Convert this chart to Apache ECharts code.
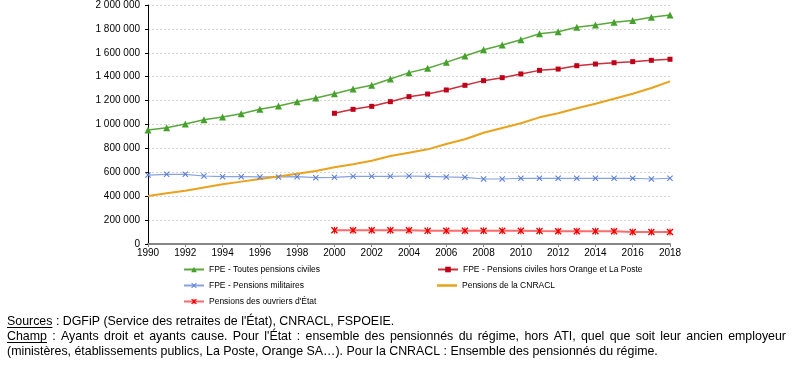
<!DOCTYPE html>
<html><head><meta charset="utf-8">
<script src="https://cdn.jsdelivr.net/npm/echarts@6/dist/echarts.min.js"></script>
<style>html,body{margin:0;padding:0;background:#fff}#c{width:806px;height:369px}</style>
</head><body><div id="c"></div>
<script>
const years = ['1990','1991','1992','1993','1994','1995','1996','1997','1998','1999','2000','2001','2002','2003','2004','2005','2006','2007','2008','2009','2010','2011','2012','2013','2014','2015','2016','2017','2018'];
const toutesCiviles = [954000, 973000, 1004000, 1040000, 1063000, 1090000, 1127000, 1155000, 1191000, 1222000, 1258000, 1297000, 1328000, 1381000, 1434000, 1470000, 1520000, 1573000, 1626000, 1665000, 1710000, 1760000, 1777000, 1813000, 1833000, 1855000, 1871000, 1897000, 1916000];
const horsOrangePoste = [null, null, null, null, null, null, null, null, null, null, 1094000, 1127000, 1152000, 1191000, 1233000, 1255000, 1289000, 1328000, 1367000, 1392000, 1423000, 1453000, 1464000, 1492000, 1506000, 1517000, 1526000, 1537000, 1546000];
const militaires = [577000, 583000, 583000, 569000, 563000, 563000, 561000, 561000, 563000, 555000, 558000, 566000, 566000, 566000, 569000, 566000, 561000, 558000, 544000, 544000, 550000, 550000, 550000, 550000, 550000, 550000, 550000, 544000, 550000];
const cnracl = [402000, 424000, 446000, 473000, 500000, 522000, 544000, 565000, 588000, 611000, 642000, 667000, 697000, 736000, 764000, 792000, 837000, 876000, 931000, 971000, 1010000, 1060000, 1094000, 1136000, 1174000, 1216000, 1258000, 1305000, 1361000];
const ouvriers = [null, null, null, null, null, null, null, null, null, null, 115000, 115000, 115000, 115000, 115000, 110000, 111000, 111000, 111000, 110000, 110000, 108000, 107000, 107000, 107000, 107000, 101000, 101000, 101000];
const seriesNames = ['FPE - Toutes pensions civiles', 'FPE - Pensions civiles hors Orange et La Poste', 'FPE - Pensions militaires', 'Pensions de la CNRACL', "Pensions des ouvriers d'État"];
const noteLine1 = ['Sources', " : DGFiP (Service des retraites de l'État), CNRACL, FSPOEIE."];
const noteLine2 = ['Champ', " : Ayants droit et ayants cause. Pour l'État : ensemble des pensionnés du régime, hors ATI, quel que soit leur ancien employeur"];
const noteLine3 = '(ministères, établissements publics, La Poste, Orange SA…). Pour la CNRACL : Ensemble des pensionnés du régime.';

const FONT = 'Liberation Sans, Arial, sans-serif';
const xPath = 'path://M0,1.2L1.2,0L5,3.8L8.8,0L10,1.2L6.2,5L10,8.8L8.8,10L5,6.2L1.2,10L0,8.8L3.8,5Z';
const starPath = 'path://M0,1.4L1.4,0L4.3,2.9L4.3,0L5.7,0L5.7,2.9L8.6,0L10,1.4L6.4,5L10,8.6L8.6,10L5.7,7.1L5.7,10L4.3,10L4.3,7.1L1.4,10L0,8.6L3.6,5Z';

const chart = echarts.init(document.getElementById('c'), null, {renderer: 'canvas'});

// footnote layout via text measurement
const cv = document.createElement('canvas').getContext('2d');
cv.font = '11px ' + FONT;
const NOTE_SIZE = Math.round(11 * 651 / cv.measureText(noteLine3).width * 10) / 10;
const NF = NOTE_SIZE + 'px ' + FONT;
cv.font = NF;
const mw = s => cv.measureText(s).width;
const graphics = [];
const X0 = 7, X1 = 786;
const Y1 = 322, Y2 = 337, Y3 = 352;
function txt(x, y, s) {
  graphics.push({type: 'text', left: x, top: y - NOTE_SIZE / 2 - 0.5, style: {text: s, fill: '#000', font: NF}});
}
function underline(x, y, w) {
  graphics.push({type: 'line', shape: {x1: x, y1: y + 5.5, x2: x + w, y2: y + 5.5}, style: {stroke: '#000', lineWidth: 1}});
}
txt(X0, Y1, noteLine1[0] + noteLine1[1]);
underline(X0, Y1, mw(noteLine1[0]));
{
  const words = (noteLine2[0] + noteLine2[1]).split(' ');
  const total = words.reduce((a, w) => a + mw(w), 0);
  const gap = (X1 - X0 - total) / (words.length - 1);
  let x = X0;
  words.forEach(w => { txt(x, Y2, w); x += mw(w) + gap; });
  underline(X0, Y2, mw(noteLine2[0]));
}
txt(X0, Y3, noteLine3);

const legendPos = [[183, 265], [437, 265], [183, 281], [437, 281], [183, 297]];
const legends = seriesNames.map((n, i) => {
  const l = {
    data: [n], left: legendPos[i][0], top: legendPos[i][1], padding: 0,
    itemWidth: 20, itemHeight: 7, itemGap: 0,
    textStyle: {fontSize: 8.5, fontFamily: FONT, color: '#000'}
  };
  if (i === 3) { l.icon = 'rect'; l.itemHeight = 2.5; }
  return l;
});

const fmt = v => String(v).replace(/\B(?=(\d{3})+(?!\d))/g, ' ');

chart.setOption({
  animation: false,
  backgroundColor: '#fff',
  grid: {left: 148, right: 136, top: 5, bottom: 125, containLabel: false},
  legend: legends,
  xAxis: {
    type: 'category', data: years, boundaryGap: false,
    axisLine: {lineStyle: {color: '#868686', width: 2}},
    axisTick: {show: true, interval: 1, length: 3, lineStyle: {color: '#868686'}},
    axisLabel: {interval: 1, color: '#000', fontSize: 10, fontFamily: FONT, margin: 4},
    splitLine: {show: false}
  },
  yAxis: {
    type: 'value', min: 0, max: 2000000, interval: 200000,
    axisLine: {show: true, lineStyle: {color: '#000', width: 1}},
    axisTick: {show: true, length: 3, lineStyle: {color: '#000'}},
    axisLabel: {formatter: fmt, color: '#000', fontSize: 10, fontFamily: FONT, margin: 8},
    splitLine: {show: true, lineStyle: {color: '#d4d4d4', type: [2, 2], width: 1}}
  },
  series: [
    {name: seriesNames[0], type: 'line', data: toutesCiviles, symbol: 'triangle', symbolSize: 7,
     itemStyle: {color: '#46a12c'}, lineStyle: {color: '#5aa83c', width: 1.5}},
    {name: seriesNames[1], type: 'line', data: horsOrangePoste, symbol: 'rect', symbolSize: 5,
     itemStyle: {color: '#c00018'}, lineStyle: {color: '#c8303c', width: 1.5}},
    {name: seriesNames[2], type: 'line', data: militaires, symbol: xPath, symbolSize: 6,
     itemStyle: {color: '#5a7ed6'}, lineStyle: {color: '#86a2e0', width: 1.2}},
    {name: seriesNames[3], type: 'line', data: cnracl, symbol: 'none', showSymbol: false,
     itemStyle: {color: '#e9a21c'}, lineStyle: {color: '#e9a21c', width: 2}},
    {name: seriesNames[4], type: 'line', data: ouvriers, symbol: starPath, symbolSize: 7,
     itemStyle: {color: '#ee0000'}, lineStyle: {color: '#ff6a6a', width: 2}}
  ],
  graphic: graphics
});
</script></body></html>
